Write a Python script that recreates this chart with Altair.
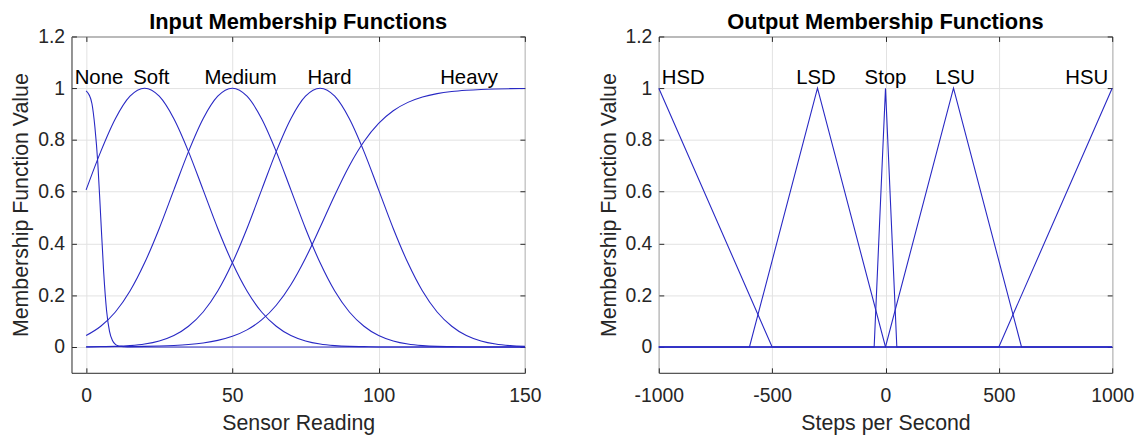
import altair as alt
import pandas as pd

FONT = "Liberation Sans"
BLUE = "#2828C4"
AX = "#262626"
GRID = "#E2E2E2"

# ---------------- Input membership functions (left) ----------------
in_x = [0, 5, 10, 15, 20, 25, 30, 35, 40, 45, 50, 55, 60, 65, 70, 75, 80,
        85, 90, 95, 100, 105, 110, 115, 120, 125, 130, 135, 140, 145, 150]
soft_y = [0.607, 0.755, 0.882, 0.969, 1.0, 0.969, 0.882, 0.755, 0.607, 0.458,
          0.325, 0.216, 0.135, 0.080, 0.044, 0.023, 0.011, 0.005, 0.002, 0.001,
          0, 0, 0, 0, 0, 0, 0, 0, 0, 0, 0]
medium_y = [0.044, 0.080, 0.135, 0.216, 0.325, 0.458, 0.607, 0.755, 0.882, 0.969,
            1.0, 0.969, 0.882, 0.755, 0.607, 0.458, 0.325, 0.216, 0.135, 0.080,
            0.044, 0.023, 0.011, 0.005, 0.002, 0.001, 0, 0, 0, 0, 0]
hard_y = [0.000, 0.001, 0.002, 0.005, 0.011, 0.023, 0.044, 0.080, 0.135, 0.216,
          0.325, 0.458, 0.607, 0.755, 0.882, 0.969, 1.0, 0.969, 0.882, 0.755,
          0.607, 0.458, 0.325, 0.216, 0.135, 0.080, 0.044, 0.023, 0.011, 0.005, 0.002]
heavy_y = [0.0003, 0.0005, 0.0008, 0.0013, 0.0021, 0.0035, 0.0058, 0.0095, 0.0155,
           0.0253, 0.0411, 0.0660, 0.1043, 0.1611, 0.2405, 0.3430, 0.4626, 0.5866,
           0.7006, 0.7941, 0.8641, 0.9129, 0.9453, 0.9661, 0.9792, 0.9873, 0.9922,
           0.9953, 0.9971, 0.9983, 0.9989]
none_x = [0, 1, 2, 3, 4, 5, 6, 7, 8, 9, 10, 11, 12, 13, 15, 150]
none_y = [0.99, 0.975, 0.94, 0.85, 0.71, 0.50, 0.29, 0.14, 0.06, 0.025, 0.01,
          0.004, 0.002, 0.001, 0, 0]

in_labels = ["None", "Soft", "Medium", "Hard", "Heavy"]
in_label_x = [4.4, 22.3, 52.8, 83.2, 130.9]

# ---------------- Output membership functions (right) ----------------
hsd_x, hsd_y = [-1000, -500, 1000], [1, 0, 0]
lsd_x, lsd_y = [-1000, -600, -300, 0, 1000], [0, 0, 1, 0, 0]
stop_x, stop_y = [-1000, -50, 0, 50, 1000], [0, 0, 1, 0, 0]
lsu_x, lsu_y = [-1000, 0, 300, 600, 1000], [0, 0, 1, 0, 0]
hsu_x, hsu_y = [-1000, 500, 1000], [0, 0, 1]

out_labels = ["HSD", "LSD", "Stop", "LSU", "HSU"]
out_label_x = [-892, -307, 0, 307, 888]

y_ticks = [0, 0.2, 0.4, 0.6, 0.8, 1, 1.2]


def long_df(series):
    rows = []
    for name, xs, ys in series:
        for xv, yv in zip(xs, ys):
            rows.append({"name": name, "x": xv, "y": yv})
    return pd.DataFrame(rows)


left_df = long_df([
    ("None", none_x, none_y),
    ("Soft", in_x, soft_y),
    ("Medium", in_x, medium_y),
    ("Hard", in_x, hard_y),
    ("Heavy", in_x, heavy_y),
])
right_df = long_df([
    ("HSD", hsd_x, hsd_y),
    ("LSD", lsd_x, lsd_y),
    ("Stop", stop_x, stop_y),
    ("LSU", lsu_x, lsu_y),
    ("HSU", hsu_x, hsu_y),
])
left_lab = pd.DataFrame({"label": in_labels, "x": in_label_x, "y": [1] * 5})
right_lab = pd.DataFrame({"label": out_labels, "x": out_label_x, "y": [1] * 5})


def panel(df, lab, xdom, xticks, xtitle, title, interp, w, h):
    xs = alt.Scale(domain=xdom, nice=False, zero=False)
    ys = alt.Scale(domain=[-0.1, 1.2], nice=False, zero=False)
    lab_common = dict(
        grid=True, gridColor=GRID, gridWidth=1, ticks=False, domain=False,
        labelFont=FONT, labelFontSize=19.5, labelColor=AX,
        labelExpr="'' + datum.value",
        titleFont=FONT, titleFontSize=21.5, titleFontWeight="normal",
        titleColor=AX,
    )
    lines = alt.Chart(df).mark_line(
        color=BLUE, strokeWidth=1.1, interpolate=interp
    ).encode(
        x=alt.X("x:Q", scale=xs, axis=alt.Axis(
            orient="bottom", values=xticks, title=xtitle, labelPadding=14,
            titlePadding=8, labelFlush=False, **lab_common)),
        y=alt.Y("y:Q", scale=ys, axis=alt.Axis(
            orient="left", values=y_ticks, title="Membership Function Value",
            labelPadding=7, titlePadding=5, **lab_common)),
        detail="name:N",
    )
    tick_common = dict(labels=False, domain=False, grid=False, ticks=True,
                       tickSize=5, tickColor=AX, tickWidth=1, offset=-5,
                       title=None)
    t_top = alt.Chart(df).mark_point(opacity=0).encode(
        x=alt.X("x:Q", scale=xs, axis=alt.Axis(orient="top", values=xticks, **tick_common)),
        y=alt.Y("y:Q", scale=ys, axis=alt.Axis(orient="right", values=y_ticks, **tick_common)),
    )
    t_bot = alt.Chart(df).mark_point(opacity=0).encode(
        x=alt.X("x:Q", scale=xs, axis=alt.Axis(orient="bottom", values=xticks, **tick_common)),
        y=alt.Y("y:Q", scale=ys, axis=alt.Axis(orient="left", values=y_ticks, **tick_common)),
    )
    text = alt.Chart(lab).mark_text(
        font=FONT, fontSize=20.5, color="black", align="center",
        baseline="alphabetic", dy=-4,
    ).encode(
        x=alt.X("x:Q", scale=xs, axis=None),
        y=alt.Y("y:Q", scale=ys, axis=None),
        text="label:N",
    )
    return alt.layer(lines, t_top, t_bot, text).resolve_axis(
        x="independent", y="independent"
    ).properties(
        width=w, height=h,
        title=alt.TitleParams(title, font=FONT, fontSize=22, fontWeight="bold",
                              color="black", anchor="middle", frame="group",
                              offset=-7),
    )


left = panel(left_df, left_lab, [-5, 150], [0, 50, 100, 150], "Sensor Reading",
             "Input Membership Functions", "monotone", 457, 339)
right = panel(right_df, right_lab, [-1000, 1000], [-1000, -500, 0, 500, 1000],
              "Steps per Second", "Output Membership Functions", "linear", 457, 339)

chart = alt.hconcat(left, right, spacing=56).properties(
    padding={"left": 2, "top": 0, "right": 0, "bottom": 0},
    background="white",
).configure_view(stroke=AX, strokeWidth=1)

chart.save("out.html", embed_options={"renderer": "svg", "actions": False})
